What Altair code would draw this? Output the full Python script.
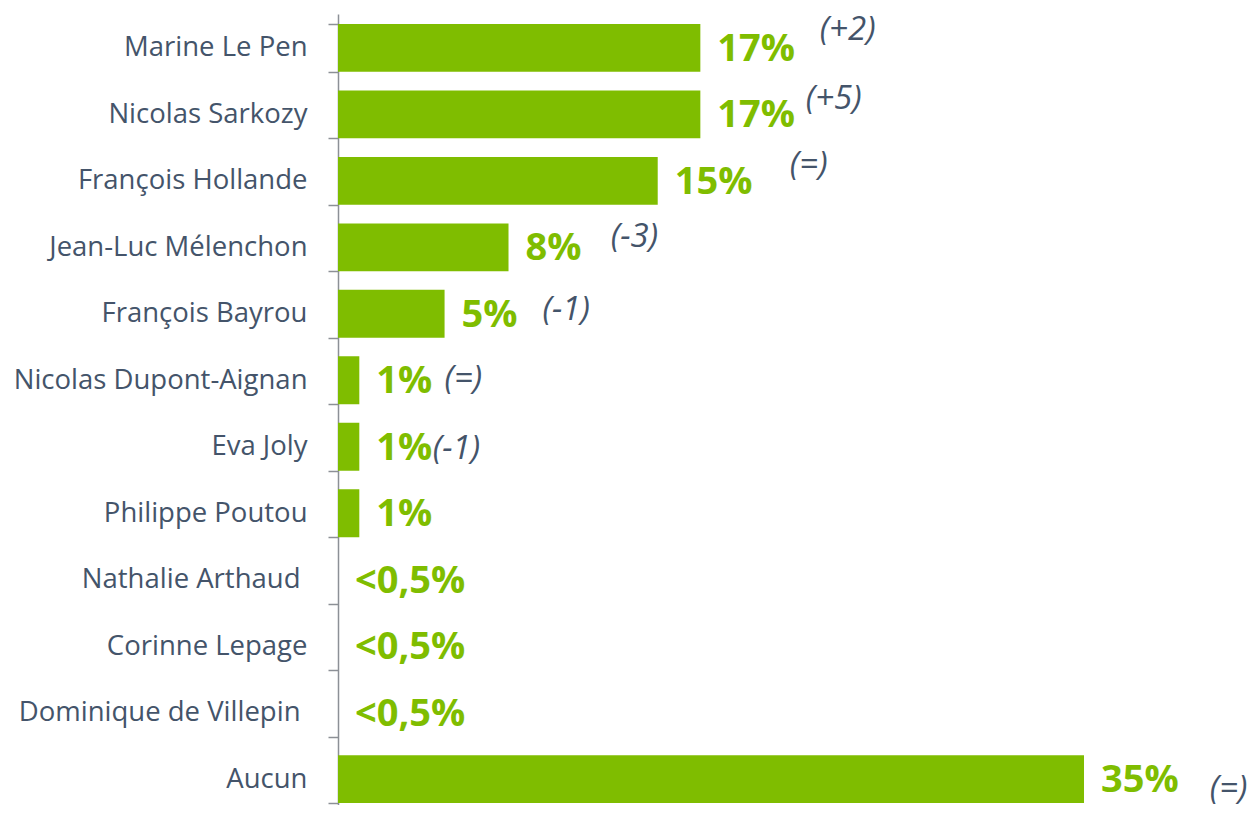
import altair as alt
import pandas as pd

candidates = [
    "Marine Le Pen", "Nicolas Sarkozy", "François Hollande", "Jean-Luc Mélenchon",
    "François Bayrou", "Nicolas Dupont-Aignan", "Eva Joly", "Philippe Poutou",
    "Nathalie Arthaud", "Corinne Lepage", "Dominique de Villepin", "Aucun",
]
values = [17, 17, 15, 8, 5, 1, 1, 1, 0, 0, 0, 35]
value_labels = ["17%", "17%", "15%", "8%", "5%", "1%", "1%", "1%",
                "<0,5%", "<0,5%", "<0,5%", "35%"]
changes = ["(+2)", "(+5)", "(=)", "(-3)", "(-1)", "(=)", "(-1)", "", "", "", "", "(=)"]
# anchor of each change label (in % units) and its vertical shift
change_x = [22.6, 21.95, 21.2, 12.8, 9.6, 5.0, 4.45, 0, 0, 0, 0, 40.9]
change_dy = [-18, -15, -16, -10, -4, -1, 2, 0, 0, 0, 0, 10]

df = pd.DataFrame({
    "candidat": candidates,
    "valeur": values,
    "label": value_labels,
    "evol": changes,
    "evol_x": change_x,
    "evol_dy": change_dy,
})

GREEN = "#7fbd00"
DARK = "#44546a"
FONT = "Open Sans"

y_enc = alt.Y(
    "candidat:N",
    sort=candidates,
    title=None,
    scale=alt.Scale(paddingInner=0.28, paddingOuter=0.15, range=[0, 799]),
    axis=alt.Axis(
        tickBand="extent",
        tickSize=10,
        tickColor="#8c9096",
        tickWidth=1.5,
        domainColor="#8c9096",
        domainWidth=1.5,
        labelFont=FONT,
        labelFontSize=27.5,
        labelColor=DARK,
        labelPadding={
            "condition": {
                "test": "datum.value == 'Nathalie Arthaud' || datum.value == 'Dominique de Villepin'",
                "value": 28,
            },
            "value": 21,
        },
        labelLimit=400,
    ),
)
x_scale = alt.Scale(domain=[0, 42.6], nice=False, zero=True)

base = alt.Chart(df)

bars = base.mark_bar(color=GREEN).encode(
    y=y_enc,
    x=alt.X("valeur:Q", scale=x_scale, axis=None),
)

vals = base.mark_text(
    align="left", baseline="middle", dx=17, dy=2,
    font=FONT, fontSize=38, fontWeight="bold", color=GREEN,
).encode(
    y=alt.Y("candidat:N", sort=candidates),
    x=alt.X("valeur:Q", scale=x_scale),
    text="label:N",
)

layers = [bars, vals]
for d in sorted(set(dy for dy, c in zip(change_dy, changes) if c)):
    layers.append(
        base.transform_filter(
            (alt.datum.evol != "") & (alt.datum.evol_dy == d)
        ).mark_text(
            align="left", baseline="middle", dy=d,
            font=FONT, fontSize=33, fontStyle="italic", color=DARK,
        ).encode(
            y=alt.Y("candidat:N", sort=candidates),
            x=alt.X("evol_x:Q", scale=x_scale),
            text="evol:N",
        )
    )

chart = (
    alt.layer(*layers)
    .properties(
        width=908,
        height=791,
        autosize=alt.AutoSizeParams(type="none"),
        padding={"left": 330, "top": 6, "right": 5, "bottom": 0},
    )
    .configure(background="white")
    .configure_view(stroke=None)
)

chart.save("out.html", embed_options={"renderer": "svg", "actions": False})
